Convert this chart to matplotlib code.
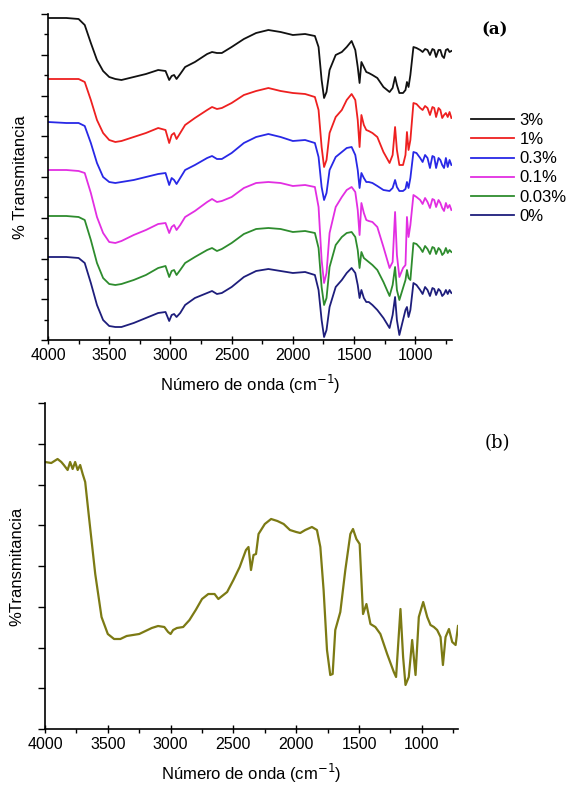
#!/usr/bin/env python3

import matplotlib
matplotlib.use("Agg")
import matplotlib.pyplot as plt
from matplotlib.ticker import MultipleLocator, NullFormatter

plt.rcParams["font.family"] = ["Liberation Sans", "DejaVu Sans"]

# ---- (a) FTIR spectra, shared wavenumber grid (cm-1) ----
wnA = [4000, 3850, 3750, 3700, 3650, 3600, 3550, 3500, 3450, 3400,
       3300, 3200, 3100, 3040, 3010, 2990, 2970, 2950, 2920, 2880,
       2800, 2700, 2660, 2620, 2580, 2500, 2400, 2300, 2200, 2100,
       2000, 1900, 1820, 1790, 1765, 1745, 1725, 1700, 1650, 1600,
       1560, 1520, 1490, 1470, 1455, 1440, 1420, 1400, 1380, 1350,
       1310, 1260, 1210, 1185, 1165, 1150, 1130, 1100, 1080, 1068,
       1055, 1040, 1015, 990, 960, 940, 920, 900, 880, 860,
       845, 830, 810, 795, 780, 765, 750, 735, 720, 705]

t3 = [322, 322, 321, 315, 297, 280, 269, 263, 261, 260,
      263, 266, 270, 269, 260, 264, 265, 261, 266, 273,
      278, 286, 288, 287, 287, 293, 301, 307, 310, 308,
      305, 306, 304, 293, 260, 242, 248, 270, 285, 288,
      293, 299, 290, 273, 257, 278, 273, 268, 267, 265,
      262, 253, 248, 252, 263, 255, 247, 247, 250, 258,
      253, 265, 293, 292, 290, 288, 291, 290, 285, 291,
      290, 283, 290, 290, 284, 282, 290, 291, 288, 289]

t1 = [261, 261, 261, 258, 240, 220, 207, 200, 198, 199,
      203, 207, 212, 210, 197, 205, 207, 201, 207, 215,
      222, 230, 233, 231, 232, 237, 245, 249, 252, 249,
      247, 246, 243, 230, 193, 173, 180, 207, 223, 230,
      240, 246, 240, 220, 193, 225, 215, 210, 209, 207,
      203, 188, 177, 185, 213, 190, 175, 175, 185, 208,
      190, 200, 237, 236, 232, 230, 234, 232, 225, 233,
      232, 223, 232, 230, 222, 225, 227, 223, 228, 222]

t03 = [218, 217, 217, 214, 197, 177, 163, 158, 157, 158,
       160, 163, 166, 167, 155, 162, 160, 156, 162, 170,
       175, 182, 184, 181, 181, 187, 197, 203, 206, 203,
       199, 200, 197, 183, 153, 140, 147, 170, 183, 188,
       192, 193, 185, 170, 152, 167, 162, 158, 158, 157,
       154, 150, 149, 152, 160, 153, 149, 149, 151, 158,
       152, 162, 188, 187, 182, 178, 185, 182, 172, 184,
       183, 172, 182, 180, 175, 172, 182, 173, 180, 175]

t01 = [170, 170, 169, 167, 147, 123, 107, 98, 97, 99,
       105, 110, 116, 117, 107, 113, 115, 110, 115, 123,
       129, 138, 141, 138, 139, 143, 152, 157, 158, 157,
       154, 155, 153, 133, 80, 57, 67, 107, 133, 143,
       150, 153, 148, 130, 105, 137, 127, 120, 119, 118,
       113, 93, 72, 78, 128, 85, 63, 72, 75, 123,
       103, 115, 145, 143, 140, 136, 142, 138, 132, 141,
       140, 133, 140, 137, 132, 129, 137, 132, 135, 130]

t003 = [124, 124, 123, 120, 100, 77, 62, 56, 55, 56,
        60, 65, 72, 74, 63, 69, 70, 65, 70, 77,
        83, 90, 92, 89, 91, 97, 106, 111, 112, 111,
        108, 109, 107, 92, 53, 35, 42, 73, 95, 103,
        107, 108, 103, 90, 72, 88, 82, 80, 78, 75,
        70, 58, 44, 55, 73, 50, 40, 52, 60, 70,
        62, 60, 97, 96, 92, 88, 94, 91, 86, 93,
        92, 86, 92, 90, 85, 87, 92, 87, 90, 88]

t0 = [83, 83, 82, 77, 57, 35, 20, 14, 13, 13,
      17, 22, 27, 28, 19, 25, 26, 23, 27, 35,
      42, 47, 49, 46, 47, 53, 63, 69, 71, 69,
      67, 68, 65, 50, 20, 3, 10, 33, 53, 60,
      67, 72, 67, 55, 42, 50, 42, 38, 38, 35,
      30, 22, 12, 25, 43, 20, 5, 20, 30, 33,
      23, 30, 57, 55, 50, 46, 53, 50, 44, 52,
      51, 45, 51, 49, 44, 46, 50, 46, 50, 47]

seriesA = [t3, t1, t03, t01, t003, t0]
labelsA = ["3%", "1%", "0.3%", "0.1%", "0.03%", "0%"]
colorsA = ["#111111", "#ee2020", "#2828e6", "#e22ee2", "#2e8c2e", "#1e1e7c"]

# ---- (b) single spectrum ----
wnB = [4000, 3950, 3900, 3870, 3850, 3820, 3800, 3780, 3760, 3740,
       3720, 3700, 3680, 3650, 3600, 3550, 3500, 3450, 3400, 3350,
       3300, 3250, 3200, 3150, 3100, 3050, 3020, 3000, 2980, 2950,
       2900, 2850, 2800, 2750, 2700, 2650, 2620, 2580, 2550, 2500,
       2450, 2400, 2380, 2360, 2340, 2320, 2300, 2250, 2200, 2150,
       2100, 2050, 2000, 1968, 1928, 1875, 1835, 1808, 1782, 1755,
       1729, 1710, 1689, 1649, 1609, 1569, 1548, 1521, 1495, 1468,
       1441, 1409, 1370, 1330, 1276, 1223, 1205, 1170, 1149, 1130,
       1104, 1077, 1050, 1024, 989, 957, 931, 904, 878, 851,
       832, 811, 784, 758, 731, 712]

tB = [267, 266, 270, 267, 264, 259, 267, 260, 267, 259,
      264, 255, 247, 212, 155, 112, 95, 90, 90, 93,
      94, 95, 98, 101, 103, 102, 97, 95, 99, 101,
      102, 109, 119, 130, 135, 135, 130, 134, 137, 149,
      162, 179, 182, 159, 174, 175, 195, 205, 210, 208,
      205, 199, 197, 196, 199, 202, 199, 182, 139, 79,
      54, 55, 99, 117, 159, 195, 200, 190, 185, 115,
      125, 105, 102, 95, 75, 57, 52, 120, 72, 44,
      52, 89, 54, 112, 127, 112, 104, 102, 99, 92,
      64, 92, 100, 87, 84, 103]


def styleAxes(ax, xmax, minorY):
    ax.spines["top"].set_visible(False)
    ax.spines["right"].set_visible(False)
    ax.set_ylim(0, 326)
    ax.yaxis.set_major_locator(MultipleLocator(40.75))
    if minorY:
        ax.yaxis.set_minor_locator(MultipleLocator(20.375))
    ax.yaxis.set_major_formatter(NullFormatter())
    ax.set_xlim(4000, xmax)
    ax.xaxis.set_major_locator(MultipleLocator(500))
    ax.xaxis.set_minor_locator(MultipleLocator(250))
    ax.tick_params(axis="x", which="major", direction="inout", length=6, width=1,
                   labelsize=11.5, pad=3)
    ax.tick_params(axis="x", which="minor", direction="out", length=3, width=1)
    ax.tick_params(axis="y", which="major", direction="out", length=5, width=1)
    ax.tick_params(axis="y", which="minor", direction="out", length=3, width=1)
    for s in ("left", "bottom"):
        ax.spines[s].set_linewidth(1.2)
    ax.set_xlabel("Número de onda (cm$^{-1}$)", fontsize=12, labelpad=7)


fig = plt.figure(figsize=(5.71, 7.85), dpi=100)

axA = fig.add_axes([48/571, 1 - 340/785, 404/571, 326/785])
for y, lab, c in zip(seriesA, labelsA, colorsA):
    axA.plot(wnA, y, color=c, lw=1.3, label=lab)
styleAxes(axA, 700, True)
axA.set_ylabel("% Transmitancia", fontsize=12, labelpad=6)
fig.legend(loc="upper left", bbox_to_anchor=(471/571, 1 - 113/785), frameon=False,
           fontsize=12, handlelength=2.6, handletextpad=0.3, labelspacing=0.25,
           borderpad=0, borderaxespad=0)
fig.text(495/571, 1 - 30/785, "(a)", fontsize=12, fontweight="bold",
         family="DejaVu Serif", ha="center", va="center")

axB = fig.add_axes([45/571, 1 - 729/785, 413/571, 326/785])
axB.plot(wnB, tB, color="#7c7a14", lw=1.6)
styleAxes(axB, 712, False)
axB.set_ylabel("%Transmitancia", fontsize=12, labelpad=6)
fig.text(497/571, 1 - 443/785, "(b)", fontsize=13,
         family="DejaVu Serif", ha="center", va="center")

fig.savefig("out.png", dpi=100)
